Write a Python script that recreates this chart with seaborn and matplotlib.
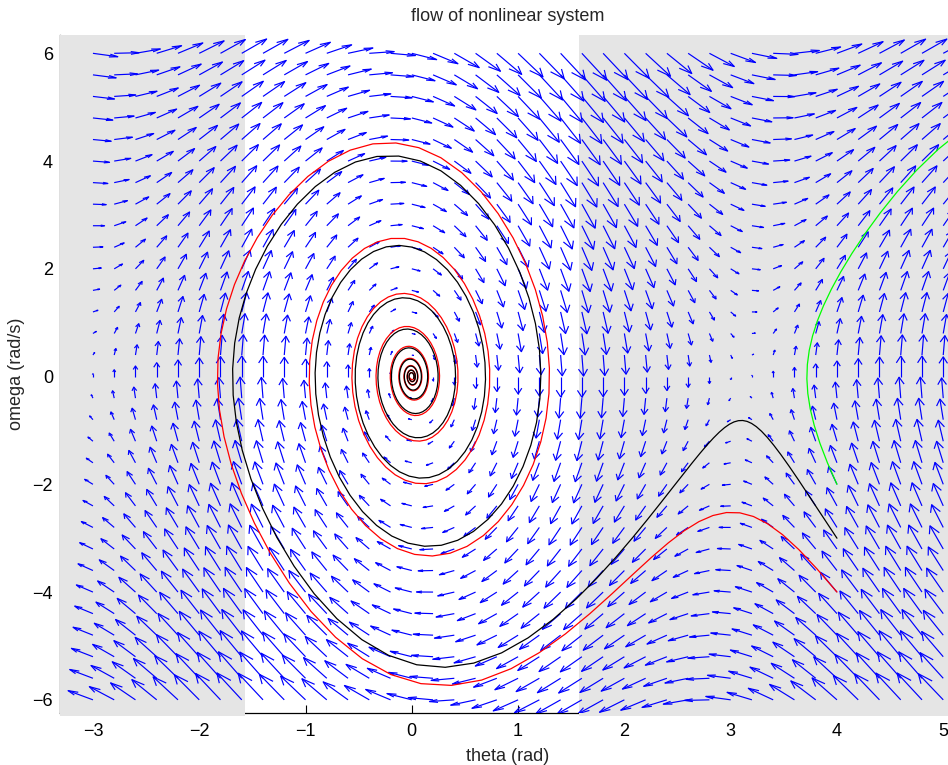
import numpy as np
import pandas as pd
import matplotlib
matplotlib.use("Agg")
import matplotlib.pyplot as plt
from matplotlib.collections import LineCollection
import seaborn as sns

# ---- data -------------------------------------------------------------
theta_grid = np.linspace(-3.0, 5.0, 41)     # quiver columns (rad)
omega_grid = np.linspace(-6.0, 6.0, 31)     # quiver rows (rad/s)
g_over_l = 9.81                              # pendulum stiffness
damping = 0.5                                # viscous damping
start_theta = [4.0, 4.0, 4.0]                # initial conditions of trajectories
start_omega = [-4.0, -3.0, -2.0]
traj_colors = ["#ff0000", "#000000", "#00ff00"]
t_end = [20.0, 20.0, 20.0]
x_limits = [-3.31, 5.12]
y_limits = [-6.25, 6.34]
shade_left = [x_limits[0], -np.pi / 2]
shade_right = [np.pi / 2, x_limits[1]]
x_ticks = [-3, -2, -1, 0, 1, 2, 3, 4, 5]
y_ticks = [-6, -4, -2, 0, 2, 4, 6]


def field(th, om):
    return om, -g_over_l * np.sin(th) - damping * om


def simulate(th0, om0, tf, dt=0.01, keep=5):
    th, om = th0, om0
    xs, ys = [th], [om]
    n = int(round(tf / dt))
    for i in range(n):
        k1 = field(th, om)
        k2 = field(th + dt / 2 * k1[0], om + dt / 2 * k1[1])
        k3 = field(th + dt / 2 * k2[0], om + dt / 2 * k2[1])
        k4 = field(th + dt * k3[0], om + dt * k3[1])
        th = th + dt / 6 * (k1[0] + 2 * k2[0] + 2 * k3[0] + k4[0])
        om = om + dt / 6 * (k1[1] + 2 * k2[1] + 2 * k3[1] + k4[1])
        if (i + 1) % keep == 0:
            xs.append(th)
            ys.append(om)
    return pd.DataFrame({"theta": xs, "omega": ys})


# ---- style ------------------------------------------------------------
sns.set_style("white")
plt.rcParams["font.family"] = ["Liberation Sans", "DejaVu Sans"]
plt.rcParams["font.size"] = 13

fig = plt.figure(figsize=(9.48, 7.65), dpi=100)
ax = fig.add_axes([60 / 948, (765 - 713.3) / 765, 896 / 948, 678.3 / 765])

# gray shaded regions (drawn over spines and ticks, as in the reference)
gray = "#e5e5e5"
for lo, hi in (shade_left, shade_right):
    ax.axvspan(lo, hi, ymin=-0.004, ymax=1.0, color=gray, lw=0,
               zorder=2.6, clip_on=False)

# quiver field with open (MATLAB-like) arrow heads
TH, OM = np.meshgrid(theta_grid, omega_grid)
U, V = field(TH, OM)
scale = 0.039
u = U.ravel() * scale
v = V.ravel() * scale
x = TH.ravel()
y = OM.ravel()
alpha, beta, eps = 0.33, 0.33, 1e-12
segs = []
for xi, yi, ui, vi in zip(x, y, u, v):
    tipx, tipy = xi + ui, yi + vi
    segs.append([(xi, yi), (tipx, tipy)])
    segs.append([(tipx - alpha * (ui + beta * (vi + eps)), tipy - alpha * (vi - beta * (ui + eps))),
                 (tipx, tipy),
                 (tipx - alpha * (ui - beta * (vi + eps)), tipy - alpha * (vi + beta * (ui + eps)))])
ax.add_collection(LineCollection(segs, colors="#0000ff", linewidths=0.85, zorder=3))

# trajectories
for th0, om0, c, tf in zip(start_theta, start_omega, traj_colors, t_end):
    df = simulate(th0, om0, tf)
    sns.lineplot(data=df, x="theta", y="omega", sort=False, estimator=None,
                 color=c, linewidth=0.9, ax=ax, zorder=3.2)

ax.set_xlim(*x_limits)
ax.set_ylim(*y_limits)
ax.set_xticks(x_ticks)
ax.set_yticks(y_ticks)
ax.set_xticklabels([str(t).replace("-", "\u2212") for t in x_ticks])
ax.set_yticklabels([str(t).replace("-", "\u2212") for t in y_ticks])
ax.tick_params(direction="in", length=6, width=0.8, color="black",
               labelsize=13, labelcolor="black", bottom=True, left=True,
               top=False, right=False)
ax.tick_params(axis="x", pad=7)
ax.tick_params(axis="y", pad=5)
for s in ["top", "right"]:
    ax.spines[s].set_visible(False)
for s in ["left", "bottom"]:
    ax.spines[s].set_color("black")
    ax.spines[s].set_linewidth(0.9)

ax.set_xlabel("theta (rad)", fontsize=13, labelpad=6)
ax.set_ylabel("omega (rad/s)", fontsize=13, labelpad=5)
ax.set_title("flow of nonlinear system", fontsize=13, pad=10)

fig.savefig("out.png", dpi=100)
